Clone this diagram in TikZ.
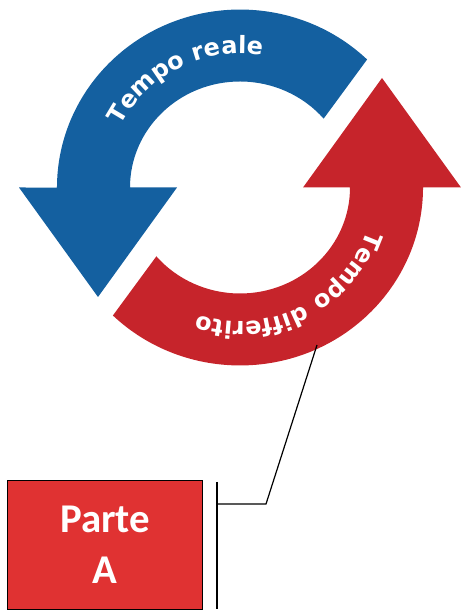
\documentclass[tikz,border=0pt]{standalone}
\usepackage{fontspec}
\usepackage{xcolor}
\usepackage{tikz}
\usetikzlibrary{decorations.text}
\newfontfamily\arcfont{DejaVu Sans}[LetterSpace=4]
\newfontfamily\boxfont{Carlito}
\definecolor{realeblue}{RGB}{20,96,160}
\definecolor{diffred}{RGB}{198,36,43}
\definecolor{partered}{RGB}{224,50,50}

\begin{document}
\begin{tikzpicture}[x=1bp, y=1bp,
    partebox/.style={rectangle, draw=black, line width=1bp, fill=partered, minimum width=194bp, minimum height=128bp, inner sep=0pt, align=center, text=white, font=\boxfont\bfseries\fontsize{41}{51}\selectfont},
    arclabel/.style={decorate, decoration={text along path, text align=center, text={|\arcfont\bfseries\fontsize{24}{24}\selectfont\color{white}|#1}}},
    bracket/.style={draw=black, line width=1.2bp}]
    \useasboundingbox (0,0) rectangle (461,613);
    \coordinate (ctr) at (240,425.5);
    % blue arrow
    \begin{scope}[shift={(ctr)}]
      \fill[realeblue] (127.1,128.0) arc[start angle=46, end angle=180, x radius=183, y radius=178]
        -- (-221,0) -- (-142,-109.5) -- (-63,0) -- (-110,0)
        arc[start angle=180, end angle=40.5, x radius=110, y radius=106] -- cycle;
      \path[arclabel={Tempo reale}] (200:134) arc[start angle=200, end angle=33, radius=134];
    \end{scope}
    % red arrow
    \begin{scope}[shift={(ctr)}, rotate=180]
      \fill[diffred] (127.1,128.0) arc[start angle=46, end angle=180, x radius=183, y radius=178]
        -- (-221,0) -- (-142,-109.5) -- (-63,0) -- (-110,0)
        arc[start angle=180, end angle=40.5, x radius=110, y radius=106] -- cycle;
      \path[arclabel={Tempo differito}] (200:134) arc[start angle=200, end angle=33, radius=134];
    \end{scope}
    \node[partebox] (parteA) at (105,68) {Parte\\A};
    \coordinate (brTop) at (217,131);
    \coordinate (brBot) at (217,4);
    \coordinate (brMid) at (217,109);
    \coordinate (elbow) at (266,109);
    \coordinate (calloutEnd) at (317,268);
    \draw[bracket] (brTop) -- (brBot);
    \draw[bracket] (brMid) -- (elbow) -- (calloutEnd);
  \end{tikzpicture}
\end{document}
